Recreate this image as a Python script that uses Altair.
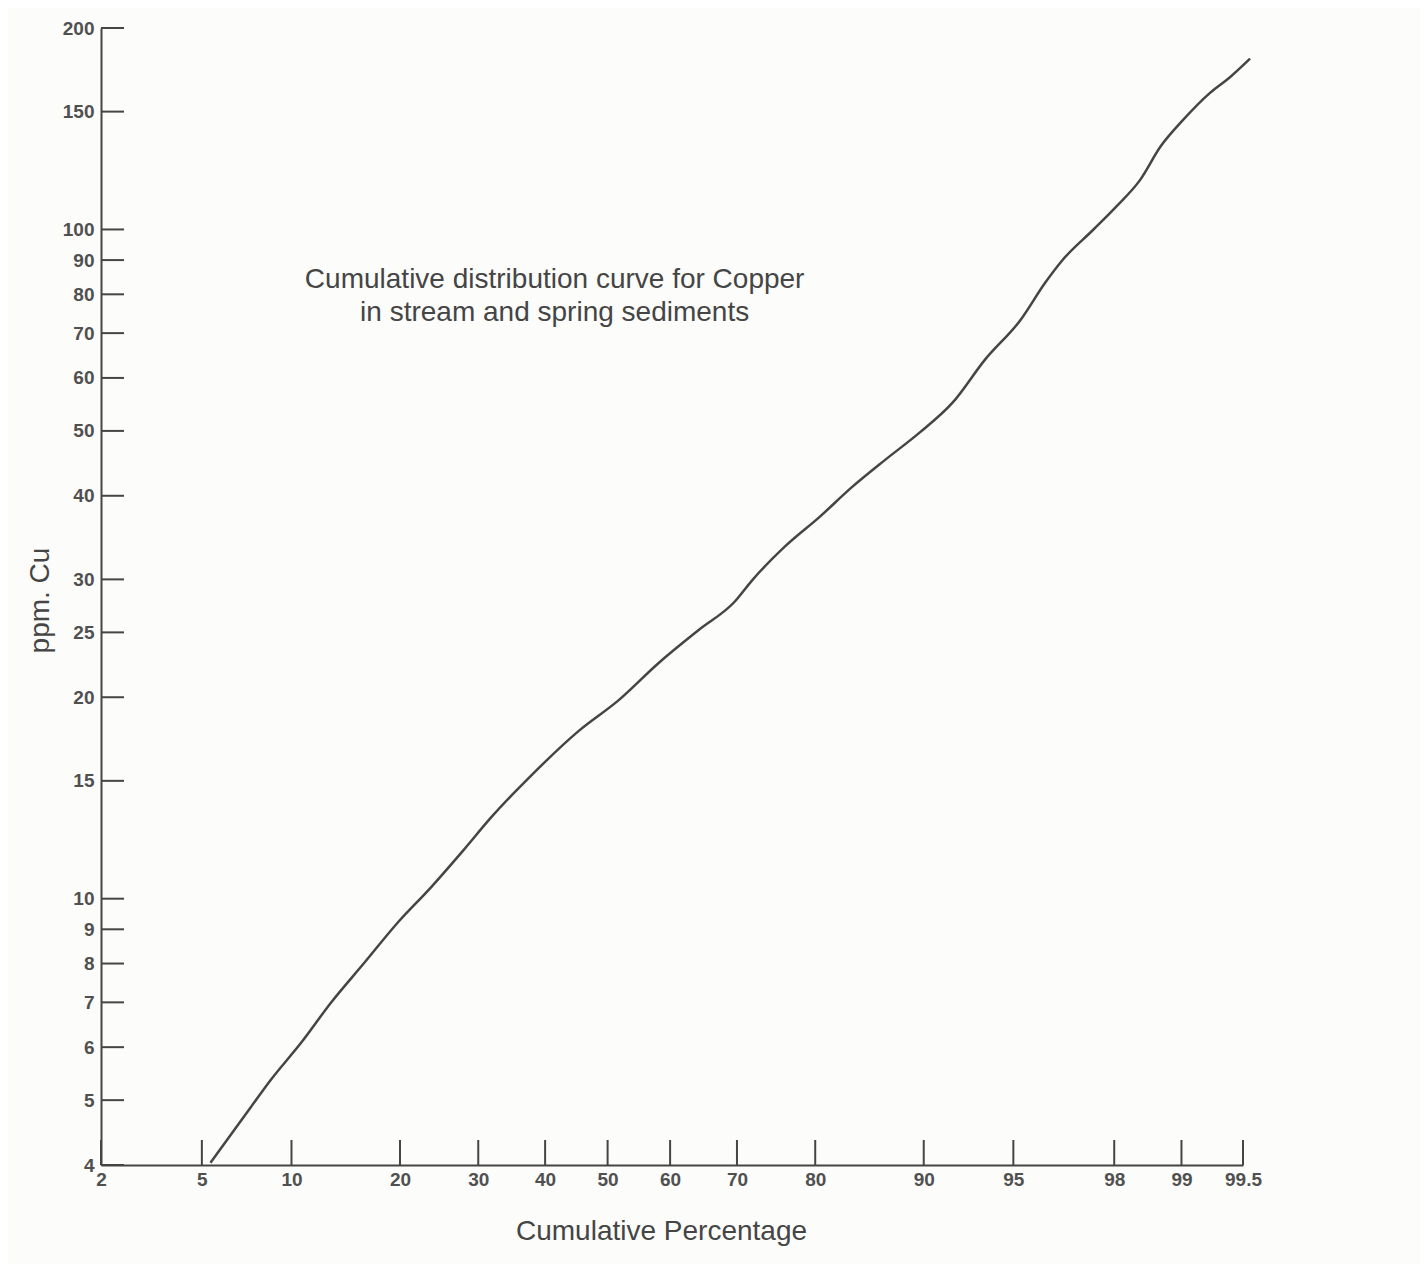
import statistics
import altair as alt
import pandas as pd

nd = statistics.NormalDist()

# Curve: cumulative percentage vs ppm Cu
cum_pct = [5.37, 7.4, 8.6, 10.7, 13.1, 16.2, 19.8, 23.7, 27.9, 31.9, 37.9, 45.3,
           51.8, 58.2, 64.4, 69.7, 72.1, 76.4, 80.5, 83.9, 87.0, 89.7, 91.9,
           93.7, 95.3, 96.2, 96.75, 97.55, 98.03, 98.46, 98.75, 99.02, 99.27,
           99.42, 99.54]
ppm_cu = [4.03, 4.88, 5.36, 6.09, 6.99, 8.02, 9.23, 10.4, 11.8, 13.25, 15.3,
          17.8, 19.8, 22.5, 25.2, 27.8, 29.9, 33.6, 37.2, 41.2, 45.3, 49.7,
          55.1, 63.9, 73.3, 83.3, 90.1, 99.9, 108, 118.7, 133, 145.9, 160, 169,
          180]

x_tick_pct = [2, 5, 10, 20, 30, 40, 50, 60, 70, 80, 90, 95, 98, 99, 99.5]
x_tick_labels = ["2", "5", "10", "20", "30", "40", "50", "60", "70", "80",
                 "90", "95", "98", "99", "99.5"]
y_ticks = [4, 5, 6, 7, 8, 9, 10, 15, 20, 25, 30, 40, 50, 60, 70, 80, 90, 100,
           150, 200]

note_lines = ["Cumulative distribution curve for Copper",
              "in stream and spring sediments"]
note_pct = [41.5]
note_ppm = [84]

# probability (probit) transform for the x axis
def probit(p):
    return nd.inv_cdf(p / 100.0)

curve = pd.DataFrame({"z": [probit(p) for p in cum_pct], "ppm": ppm_cu})
xt = pd.DataFrame({"z": [probit(p) for p in x_tick_pct], "label": x_tick_labels})
yt = pd.DataFrame({"ppm": y_ticks})
note = pd.DataFrame({"z": [probit(note_pct[0])], "ppm": note_ppm,
                     "text": [note_lines]})

W, H = 1142, 1137
INK = "#454545"
FONT = "Liberation Sans"

label_expr = ""
for zv, lab in zip(xt["z"], xt["label"]):
    label_expr += f"abs(datum.value - ({zv:.6f})) < 0.001 ? '{lab}' : "
label_expr += "''"

x_scale = alt.Scale(domain=[probit(2), probit(99.5)], nice=False, zero=False)
y_scale = alt.Scale(type="log", domain=[4, 200], nice=False)

x_axis = alt.Axis(values=list(xt["z"]), labelExpr=label_expr, ticks=False,
                  tickSize=0, grid=False, domainColor=INK, domainWidth=2,
                  labelFont=FONT, labelFontSize=19, labelFontWeight="bold",
                  labelColor="#505050",
                  labelPadding=5, labelFlush=False, labelOverlap=False,
                  title="Cumulative Percentage", titleFont=FONT,
                  titleFontSize=28, titleFontWeight="normal", titleColor=INK,
                  titlePadding=28, titleX=560)
y_axis = alt.Axis(values=y_ticks, format="d", ticks=False, tickSize=0,
                  grid=False, domainColor=INK, domainWidth=2, labelFont=FONT,
                  labelFontSize=19, labelFontWeight="bold",
                  labelColor="#505050", labelPadding=7,
                  labelFlush=False, labelOverlap=False, title="ppm. Cu",
                  titleFont=FONT, titleFontSize=28, titleFontWeight="normal",
                  titleColor=INK, titlePadding=8, titleY=572)

line = alt.Chart(curve).mark_line(color=INK, strokeWidth=2.5,
                                  interpolate="monotone").encode(
    x=alt.X("z:Q", scale=x_scale, axis=x_axis),
    y=alt.Y("ppm:Q", scale=y_scale, axis=y_axis),
)

x_ticks = alt.Chart(xt).mark_rule(color=INK, strokeWidth=2).encode(
    x=alt.X("z:Q", scale=x_scale),
    y=alt.value(H - 25),
    y2=alt.value(H),
)

y_tick_rules = alt.Chart(yt).mark_rule(color=INK, strokeWidth=2).encode(
    y=alt.Y("ppm:Q", scale=y_scale),
    x=alt.value(0),
    x2=alt.value(23),
)

note_text = alt.Chart(note).mark_text(font=FONT, fontSize=28, color=INK,
                                      align="center", baseline="middle",
                                      lineHeight=33).encode(
    x=alt.X("z:Q", scale=x_scale),
    y=alt.Y("ppm:Q", scale=y_scale),
    text="text",
)

chart = alt.layer(line, x_ticks, y_tick_rules, note_text).properties(
    width=W, height=H,
    autosize=alt.AutoSizeParams(type="none"),
    padding={"left": 93, "top": 20, "right": 177, "bottom": 99},
    background="#fcfcfa",
).configure_view(stroke=None)

chart.save("out.html", embed_options={"renderer": "svg", "actions": False})
